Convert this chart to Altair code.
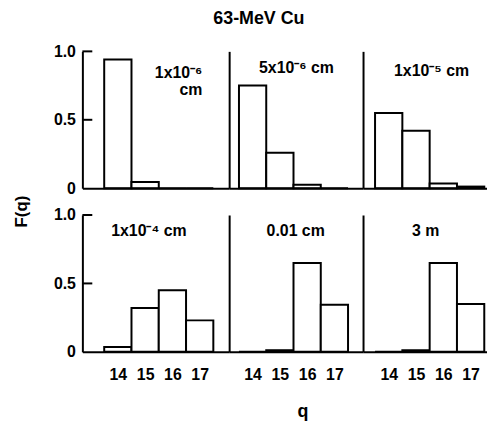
import altair as alt
import pandas as pd

# ---- data ----
q_values = [14, 15, 16, 17]
panel_labels = [["1x10⁻⁶", "cm"], "5x10⁻⁶ cm", "1x10⁻⁵ cm", "1x10⁻⁴ cm", "0.01 cm", "3 m"]
f_1e6 = [0.94, 0.045, 0.0, 0.0]
f_5e6 = [0.75, 0.26, 0.025, 0.0]
f_1e5 = [0.55, 0.42, 0.035, 0.012]
f_1e4 = [0.035, 0.32, 0.45, 0.23]
f_001 = [0.0, 0.012, 0.65, 0.345]
f_3m = [0.0, 0.012, 0.65, 0.35]
y_ticks = [0.5, 1.0]

# label anchor positions (data coordinates q, F)
label_q = [17.1, 15.61, 15.57, 15.14, 15.58, 15.35]
label_f = [0.84, 0.877, 0.855, 0.884, 0.884, 0.884]

series = [f_1e6, f_5e6, f_1e5, f_1e4, f_001, f_3m]

FONT = "Liberation Sans"
col_domains = [[12.7, 18.08], [13.14, 18.05], [13.06, 17.6]]
col_widths = [148, 135, 125]
PANEL_H = 138


def panel(idx):
    row, col = divmod(idx, 3)
    df = pd.DataFrame({"q": q_values, "F": series[idx]})
    xs = alt.Scale(domain=col_domains[col], nice=False, zero=False)
    ys = alt.Scale(domain=[0, 1], nice=False)

    x_axis_kwargs = dict(
        values=q_values, ticks=False, tickSize=0, grid=False, domain=True,
        domainColor="black", domainWidth=2, zindex=1,
        labels=(row == 1), labelFont=FONT, labelFontSize=16, labelFontWeight="bold",
        labelColor="black", labelPadding=15, labelFlush=False,
    )
    if row == 1 and col == 1:
        x_axis_kwargs.update(title="q", titleFont=FONT, titleFontSize=18,
                             titleFontWeight="bold", titleColor="black",
                             titlePadding=20, titleX=74)
    else:
        x_axis_kwargs.update(title=None)

    y_axis_kwargs = dict(
        values=[0, 0.5, 1.0], ticks=False, tickSize=0, grid=False, domain=True,
        domainColor="black", domainWidth=2, zindex=1, title=None,
        labels=(col == 0), labelFont=FONT, labelFontSize=16, labelFontWeight="bold",
        labelColor="black", labelPadding=7,
        labelExpr="datum.value == 0 ? '0' : format(datum.value, '.1f')",
    )

    bars = (
        alt.Chart(df)
        .transform_calculate(q0="datum.q - 0.5", q1="datum.q + 0.5")
        .mark_bar(fill="white", stroke="black", strokeWidth=2)
        .encode(
            x=alt.X("q0:Q", scale=xs, axis=alt.Axis(**x_axis_kwargs)),
            x2="q1:Q",
            y=alt.Y("F:Q", scale=ys, axis=alt.Axis(**y_axis_kwargs)),
            y2=alt.datum(0),
        )
    )

    lab = panel_labels[idx]
    ldf = pd.DataFrame({"q": [label_q[idx]], "F": [label_f[idx]]})
    text = (
        alt.Chart(ldf)
        .mark_text(
            font=FONT, fontSize=16, fontWeight="bold", color="black",
            align="right" if idx == 0 else "center", baseline="middle",
            lineHeight=17,
        )
        .encode(x=alt.X("q:Q", scale=xs), y=alt.Y("F:Q", scale=ys),
                text=alt.value(lab))
    )

    layers = [bars, text]
    if col == 0:
        tdf = pd.DataFrame({"v": y_ticks})
        ticks = (
            alt.Chart(tdf)
            .mark_rule(color="black", strokeWidth=2)
            .encode(x=alt.value(0), x2=alt.value(10), y=alt.Y("v:Q", scale=ys))
        )
        layers.append(ticks)

    return alt.layer(*layers).properties(width=col_widths[col], height=PANEL_H)


rows = [
    alt.hconcat(*[panel(r * 3 + c) for c in range(3)], spacing=0)
    for r in range(2)
]
grid = alt.vconcat(*rows, spacing=11)

# shared y-axis title
ylab = (
    alt.Chart(pd.DataFrame({"F": [0.0]}))
    .mark_point(opacity=0)
    .encode(
        y=alt.Y(
            "F:Q",
            axis=alt.Axis(
                title="F(q)", labels=False, ticks=False, domain=False, grid=False,
                titleFont=FONT, titleFontSize=17, titleFontWeight="bold",
                titleColor="black", titlePadding=0,
            ),
        )
    )
    .properties(width=1, height=322)
)

chart = (
    alt.hconcat(ylab, grid, spacing=18)
    .properties(
        title=alt.TitleParams(
            "63-MeV Cu", font=FONT, fontSize=18, fontWeight="bold",
            color="black", anchor="middle", offset=16, dx=9,
        ),
        padding={"left": 5, "top": 0, "right": 0, "bottom": 0},
    )
    .configure_view(stroke=None)
)

chart.save("out.html", embed_options={"renderer": "svg", "actions": False})
